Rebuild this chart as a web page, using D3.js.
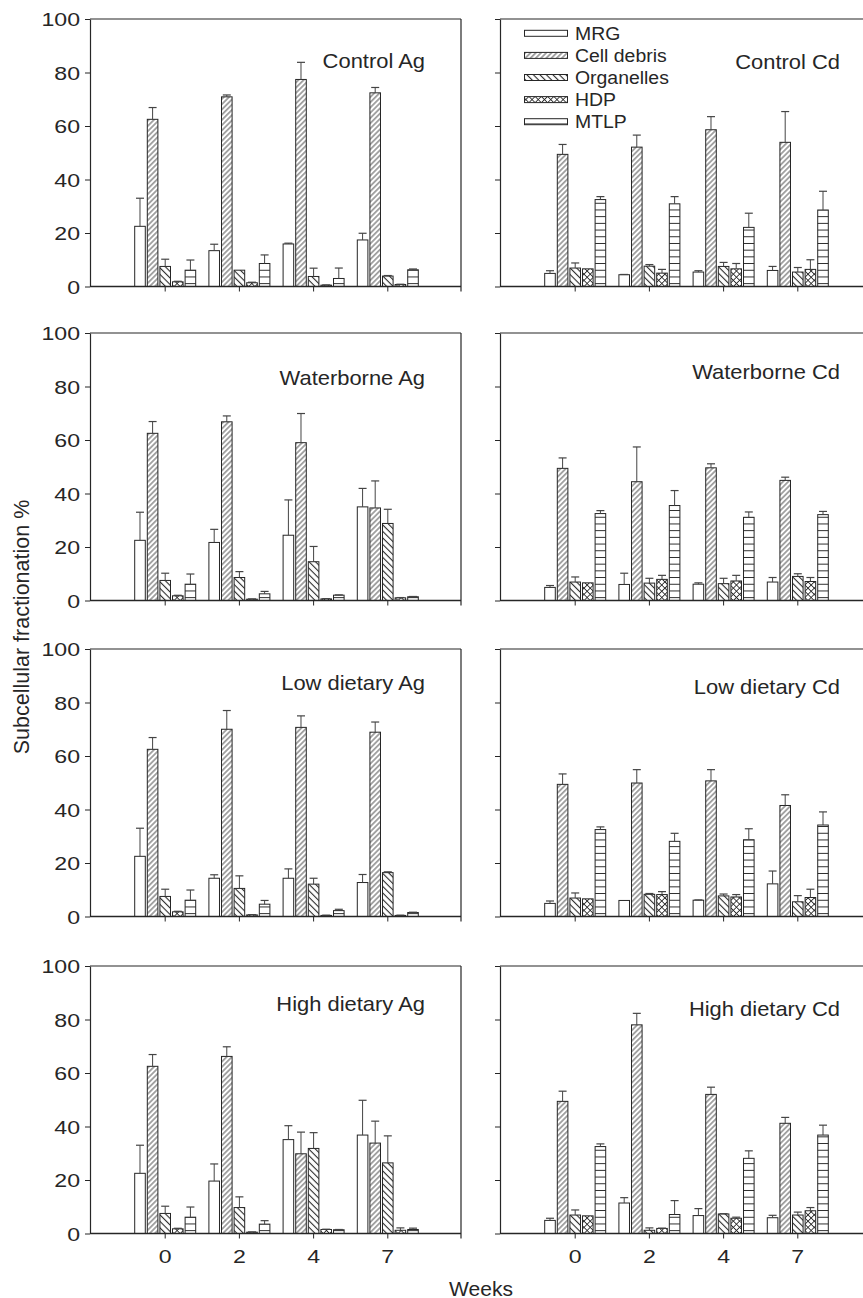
<!DOCTYPE html>
<html><head><meta charset="utf-8">
<script src="https://cdn.jsdelivr.net/npm/d3@7"></script>
<style>body{margin:0;background:#fff}svg{display:block}</style>
</head><body>
<script>
// ---------------- DATA ----------------
const weeks = ["0", "2", "4", "7"];
const series = ["MRG", "Cell debris", "Organelles", "HDP", "MTLP"];
const yTicks = [0, 20, 40, 60, 80, 100];
const panelTitles = ["Control Ag", "Control Cd", "Waterborne Ag", "Waterborne Cd",
                     "Low dietary Ag", "Low dietary Cd", "High dietary Ag", "High dietary Cd"];

// each array: one row per series (MRG, Cell debris, Organelles, HDP, MTLP), one value per week
const controlAgMean = [[22.5,13.4,15.9,17.4],[62.5,70.9,77.4,72.4],[7.5,6.1,3.75,3.9],[1.75,1.4,0.5,0.75],[6.1,8.6,3.0,6.25]];
const controlAgSD   = [[10.5,2.4,0.3,2.5],[4.4,0.7,6.4,2.0],[2.7,0,3.1,0.2],[0.2,0.2,0.1,0.1],[3.8,3.2,3.9,0.3]];
const controlCdMean = [[4.9,4.4,5.4,6.0],[49.4,52.1,58.6,53.9],[6.9,7.6,7.5,5.4],[6.6,5.0,6.6,6.4],[32.5,30.9,22.1,28.6]];
const controlCdSD   = [[1.0,0.1,0.5,1.5],[3.7,4.5,4.9,11.5],[1.9,0.6,1.5,1.7],[0,1.4,2.0,3.6],[1.1,2.7,5.3,7.0]];
const waterAgMean   = [[22.5,21.7,24.4,35.0],[62.5,66.8,59.0,34.6],[7.5,8.6,14.5,28.8],[1.75,0.5,0.6,1.0],[6.1,2.5,2.0,1.4]];
const waterAgSD     = [[10.5,4.9,13.2,6.9],[4.4,2.2,10.9,10.1],[2.7,2.2,5.7,5.3],[0.2,0.1,0.1,0.1],[3.8,0.9,0.1,0.1]];
const waterCdMean   = [[4.9,6.0,6.1,6.9],[49.4,44.4,49.6,44.9],[6.9,6.5,6.3,9.0],[6.6,7.9,7.3,7.1],[32.5,35.5,31.1,32.1]];
const waterCdSD     = [[0.7,4.2,0.5,1.7],[3.9,13.0,1.5,1.2],[1.9,1.8,2.0,1.0],[0,1.5,2.1,1.5],[1.1,5.6,2.0,1.2]];
const lowAgMean     = [[22.5,14.3,14.3,12.7],[62.5,70.0,70.7,68.9],[7.5,10.5,12.1,16.4],[1.75,0.6,0.4,0.4],[6.1,4.6,2.2,1.5]];
const lowAgSD       = [[10.5,1.3,3.5,3.0],[4.4,7.0,4.3,3.8],[2.7,4.7,2.2,0.3],[0.2,0.1,0.1,0.1],[3.8,1.4,0.5,0.1]];
const lowCdMean     = [[4.9,6.0,6.1,12.2],[49.4,49.9,50.7,41.5],[6.9,8.3,7.7,5.5],[6.6,8.2,7.3,7.1],[32.5,28.1,28.7,34.2]];
const lowCdSD       = [[0.9,0,0.1,4.8],[3.9,5.0,4.2,4.0],[1.9,0.3,0.7,2.3],[0,1.1,0.9,3.1],[1.0,3.0,4.1,4.9]];
const highAgMean    = [[22.5,19.6,35.1,36.8],[62.5,66.2,29.8,33.8],[7.5,9.7,31.8,26.4],[1.75,0.5,1.5,1.2],[6.1,3.5,1.4,1.5]];
const highAgSD      = [[10.5,6.4,5.2,13.0],[4.4,3.6,8.1,8.2],[2.7,4.0,5.9,10.1],[0.2,0.1,0.1,0.9],[3.8,1.3,0.1,0.5]];
const highCdMean    = [[4.9,11.4,6.7,5.9],[49.4,78.0,52.0,41.2],[6.9,1.2,7.3,6.9],[6.6,1.9,5.7,8.5],[32.5,7.1,28.1,36.8]];
const highCdSD      = [[0.8,2.0,2.6,0.9],[3.8,4.3,2.7,2.2],[1.9,0.9,0.1,1.1],[0,0.1,0.4,1.2],[1.0,5.2,2.8,3.7]];

const panelMeans = [controlAgMean, controlCdMean, waterAgMean, waterCdMean, lowAgMean, lowCdMean, highAgMean, highCdMean];
const panelSDs   = [controlAgSD, controlCdSD, waterAgSD, waterCdSD, lowAgSD, lowCdSD, highAgSD, highCdSD];

// ---------------- LAYOUT ----------------
const W = 863, H = 1298;
const colX = [90, 500];
const plotW = 371, plotH = 267.5;
const rowTop = [19, 333, 649, 966];
const titleRight = [425, 840];
const titleCenter = [[42, 43], [45, 39], [34, 38], [38, 43]];
const ink = "#262626";
const FONT = "'Liberation Sans', Arial, Helvetica, sans-serif";

const svg = d3.select("body").append("svg").attr("width", W).attr("height", H)
  .attr("font-family", FONT);
svg.append("rect").attr("width", W).attr("height", H).attr("fill", "#fff");

// ---------------- PATTERNS ----------------
const defs = svg.append("defs");
function linePattern(id, size, rot, sw, both) {
  const p = defs.append("pattern").attr("id", id).attr("patternUnits", "userSpaceOnUse")
    .attr("width", size).attr("height", size).attr("patternTransform", `rotate(${rot})`);
  p.append("rect").attr("width", size).attr("height", size).attr("fill", "#fff");
  p.append("line").attr("x1", size / 2).attr("y1", -1).attr("x2", size / 2).attr("y2", size + 1)
    .attr("stroke", ink).attr("stroke-width", sw);
  if (both) p.append("line").attr("x1", -1).attr("y1", size / 2).attr("x2", size + 1).attr("y2", size / 2)
    .attr("stroke", ink).attr("stroke-width", sw);
}
linePattern("pCell", 3.7, 45, 0.8, false);
linePattern("pOrg", 4.6, -45, 1.1, false);
linePattern("pHdp", 4.4, 45, 0.85, true);
(function () {
  const p = defs.append("pattern").attr("id", "pMtlp").attr("patternUnits", "userSpaceOnUse")
    .attr("width", 10).attr("height", 6.7);
  p.append("rect").attr("width", 10).attr("height", 6.7).attr("fill", "#fff");
  p.append("line").attr("x1", -1).attr("x2", 11).attr("y1", 3.35).attr("y2", 3.35)
    .attr("stroke", ink).attr("stroke-width", 1);
})();
const fills = ["#fff", "url(#pCell)", "url(#pOrg)", "url(#pHdp)", "url(#pMtlp)"];

// ---------------- PANELS ----------------
panelTitles.forEach((title, k) => {
  const row = Math.floor(k / 2), col = k % 2;
  const x0 = colX[col], y0 = rowTop[row];
  const g = svg.append("g").attr("transform", `translate(${x0},${y0})`);

  const x = d3.scaleBand().domain(weeks).range([1, plotW + 1]).paddingOuter(0.5).paddingInner(0);
  const xs = d3.scaleBand().domain(series).range([-30.5, 30.5]).paddingInner(0.16);
  const y = d3.scaleLinear().domain([0, 100]).range([plotH, 0]);

  const means = panelMeans[k], sds = panelSDs[k];

  // bars
  series.forEach((s, j) => {
    const gs = g.append("g");
    gs.selectAll("rect").data(weeks.map((w, i) => ({ w, v: means[j][i], e: sds[j][i] })))
      .join("rect")
      .attr("x", d => x(d.w) + x.bandwidth() / 2 + xs(s))
      .attr("y", d => y(d.v))
      .attr("width", xs.bandwidth())
      .attr("height", d => y(0) - y(d.v))
      .attr("fill", fills[j])
      .attr("stroke", ink).attr("stroke-width", 1);
    const eb = gs.selectAll("g.err").data(weeks.map((w, i) => ({ w, v: means[j][i], e: sds[j][i] })).filter(d => d.e > 0))
      .join("g").attr("class", "err");
    eb.append("line")
      .attr("x1", d => x(d.w) + x.bandwidth() / 2 + xs(s) + xs.bandwidth() / 2)
      .attr("x2", d => x(d.w) + x.bandwidth() / 2 + xs(s) + xs.bandwidth() / 2)
      .attr("y1", d => y(d.v)).attr("y2", d => y(d.v + d.e))
      .attr("stroke", "#444").attr("stroke-width", 1);
    eb.append("line")
      .attr("x1", d => x(d.w) + x.bandwidth() / 2 + xs(s) + xs.bandwidth() / 2 - 4)
      .attr("x2", d => x(d.w) + x.bandwidth() / 2 + xs(s) + xs.bandwidth() / 2 + 4)
      .attr("y1", d => y(d.v + d.e)).attr("y2", d => y(d.v + d.e))
      .attr("stroke", "#444").attr("stroke-width", 1.2);
  });

  // frame: top and right
  g.append("line").attr("x1", 0).attr("x2", plotW).attr("y1", y(100)).attr("y2", y(100))
    .attr("stroke", ink).attr("stroke-width", 1.2);
  g.append("line").attr("x1", plotW).attr("x2", plotW).attr("y1", y(100)).attr("y2", y(0) + 5)
    .attr("stroke", ink).attr("stroke-width", 1.2);
  // baseline
  g.append("line").attr("x1", 0).attr("x2", plotW).attr("y1", y(0)).attr("y2", y(0))
    .attr("stroke", ink).attr("stroke-width", 1.3);

  // y axis
  const gy = g.append("g").attr("color", ink)
    .call(d3.axisLeft(y).tickValues(yTicks).tickSize(5).tickSizeOuter(0));
  gy.select(".domain").attr("stroke-width", 1.2);
  gy.selectAll(".tick line").attr("stroke-width", 1);
  gy.attr("font-size", null).attr("font-family", null);
  if (col === 0) {
    gy.selectAll(".tick text").attr("x", null).attr("dy", null)
      .attr("fill", ink).attr("font-size", 18.5).attr("text-anchor", "end")
      .attr("transform", "translate(-10,6.6) scale(1.25,1)");
  } else {
    gy.selectAll(".tick text").remove();
  }

  // x axis
  const gx = g.append("g").attr("transform", `translate(0,${plotH})`).attr("color", ink)
    .call(d3.axisBottom(x).tickSize(5).tickSizeOuter(0));
  gx.select(".domain").remove();
  gx.selectAll(".tick line").attr("stroke-width", 1);
  gx.attr("font-size", null).attr("font-family", null);
  if (row === 3) {
    gx.selectAll(".tick text").attr("y", null).attr("dy", null)
      .attr("fill", ink).attr("font-size", 18.5)
      .attr("transform", "translate(0,29.6) scale(1.25,1)");
  } else {
    gx.selectAll(".tick text").remove();
  }

  // title
  g.append("text")
    .attr("transform", `translate(${titleRight[col] - x0},${titleCenter[row][col] + 7.4}) scale(1.07,1)`)
    .attr("text-anchor", "end").attr("font-size", 20.5).attr("fill", ink).text(title);
});

// ---------------- LEGEND ----------------
const lg = svg.append("g");
series.forEach((s, j) => {
  const cy = 33.3 + j * 22.1;
  lg.append("rect").attr("x", 524.5).attr("y", cy - 3).attr("width", 43).attr("height", 6)
    .attr("fill", fills[j]).attr("stroke", ink).attr("stroke-width", 1);
  lg.append("text").attr("transform", `translate(575,${cy + 6.6}) scale(1.05,1)`)
    .attr("font-size", 18.5).attr("fill", ink).text(s);
});

// ---------------- AXIS LABELS ----------------
svg.append("text").attr("transform", "translate(29,627) rotate(-90)")
  .attr("text-anchor", "middle").attr("font-size", 21.5).attr("fill", ink)
  .text("Subcellular fractionation %");
svg.append("text").attr("x", 481).attr("y", 1295.5)
  .attr("text-anchor", "middle").attr("font-size", 21).attr("fill", ink).text("Weeks");
</script>
</body></html>
